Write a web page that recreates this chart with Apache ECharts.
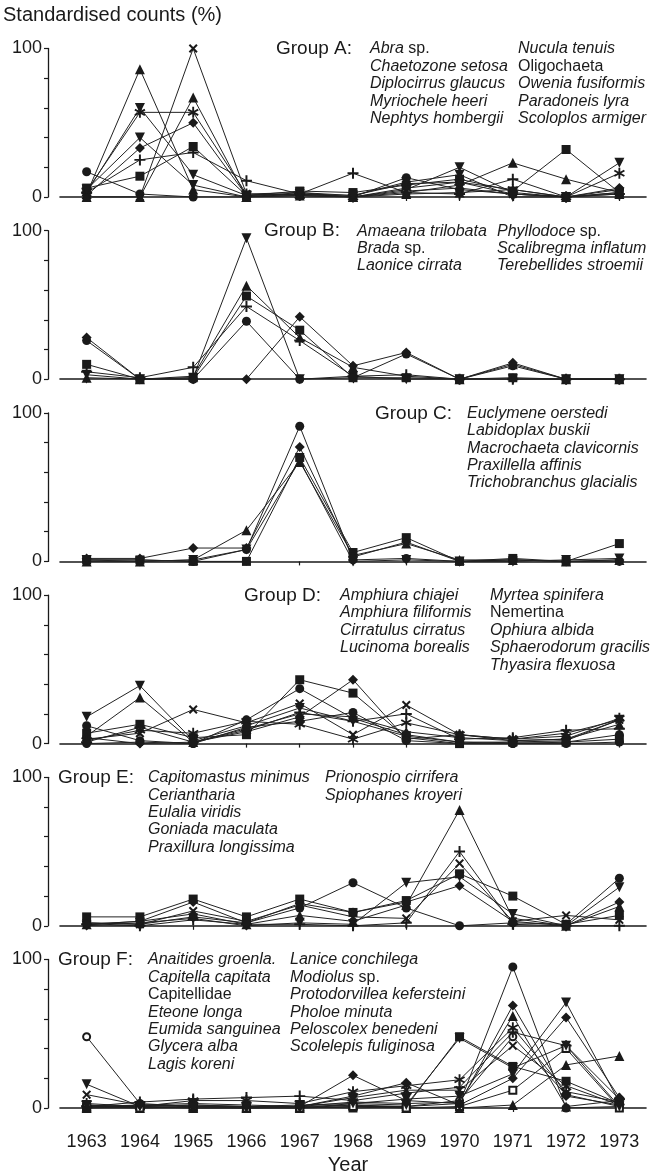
<!DOCTYPE html>
<html>
<head>
<meta charset="utf-8">
<script src="https://cdn.jsdelivr.net/npm/echarts@6/dist/echarts.min.js"></script>
<style>
  html, body { margin: 0; padding: 0; background: #fff; }
  #chart { width: 651px; height: 1176px; }
</style>
</head>
<body>
<div id="chart"></div>
<script>
// Years sampled
const years = ['1963', '1964', '1965', '1966', '1967', '1968', '1969', '1970', '1971', '1972', '1973'];

// Standardised counts (%) per species line, one array per line, grouped by community group
const groupA = [
  [17, 2, 0, 0, 1, 0, 13, 5, 2, 0, 5],
  [2, 86, 5, 0, 2, 0, 3, 8, 23, 12, 3],
  [3, 60, 15, 1, 2, 0, 5, 20, 3, 0, 23],
  [0, 0, 100, 2, 3, 0, 4, 6, 2, 0, 3],
  [3, 25, 30, 11, 2, 16, 3, 2, 12, 0, 2],
  [6, 14, 34, 1, 4, 3, 8, 12, 4, 32, 3],
  [1, 33, 50, 1, 2, 1, 9, 10, 2, 0, 6],
  [4, 57, 57, 2, 1, 0, 6, 10, 5, 0, 16],
  [0, 0, 67, 0, 1, 0, 2, 3, 5, 0, 2],
  [5, 40, 8, 0, 3, 1, 10, 15, 0, 0, 3]
];
const groupB = [
  [3, 0, 1, 95, 0, 2, 0, 0, 0, 0, 0],
  [1, 0, 2, 63, 28, 8, 2, 0, 10, 0, 0],
  [10, 0, 1, 56, 33, 1, 1, 0, 1, 0, 0],
  [5, 1, 8, 49, 26, 2, 3, 0, 0, 0, 0],
  [26, 0, 0, 39, 0, 1, 17, 0, 9, 0, 0],
  [28, 0, 0, 0, 42, 9, 18, 0, 11, 0, 0]
];
const groupC = [
  [1, 1, 0, 8, 91, 1, 2, 0, 1, 0, 0],
  [2, 2, 9, 9, 77, 3, 13, 0, 1, 0, 1],
  [1, 1, 0, 0, 70, 6, 16, 0, 2, 0, 12],
  [0, 0, 1, 21, 67, 4, 12, 1, 1, 0, 1],
  [1, 0, 1, 8, 68, 0, 1, 0, 0, 1, 2]
];
const groupD = [
  [18, 39, 2, 12, 24, 15, 5, 1, 1, 2, 16],
  [5, 31, 1, 10, 20, 18, 8, 4, 2, 3, 13],
  [3, 7, 23, 14, 27, 6, 26, 6, 3, 7, 16],
  [7, 13, 4, 6, 43, 34, 4, 0, 1, 1, 3],
  [12, 2, 0, 16, 37, 17, 6, 1, 0, 0, 1],
  [4, 0, 1, 8, 18, 43, 3, 6, 2, 3, 16],
  [1, 11, 1, 9, 21, 15, 20, 3, 4, 9, 10],
  [2, 9, 7, 15, 13, 3, 14, 6, 3, 5, 17],
  [0, 1, 0, 11, 15, 21, 2, 0, 0, 1, 6]
];
const groupE = [
  [2, 1, 6, 2, 12, 29, 12, 0, 2, 1, 32],
  [1, 3, 8, 1, 7, 3, 14, 78, 5, 0, 13],
  [0, 2, 5, 0, 2, 1, 29, 33, 8, 0, 26],
  [2, 1, 10, 3, 14, 6, 5, 42, 3, 7, 4],
  [1, 0, 4, 1, 1, 0, 2, 50, 1, 0, 0],
  [6, 6, 18, 6, 18, 9, 17, 35, 20, 1, 7],
  [1, 3, 16, 2, 15, 9, 16, 27, 3, 0, 16]
];
const groupF = [
  [48, 3, 1, 0, 1, 2, 1, 5, 48, 9, 1],
  [16, 1, 2, 1, 2, 3, 6, 8, 23, 71, 4],
  [9, 2, 3, 2, 1, 7, 12, 12, 42, 15, 2],
  [2, 0, 1, 1, 0, 1, 1, 3, 95, 0, 1],
  [1, 1, 2, 1, 1, 22, 5, 3, 69, 8, 2],
  [0, 0, 0, 0, 0, 2, 0, 0, 2, 29, 35],
  [1, 2, 1, 1, 1, 4, 3, 4, 62, 1, 5],
  [3, 1, 5, 5, 3, 11, 15, 19, 54, 11, 4],
  [0, 1, 0, 0, 1, 0, 1, 48, 28, 18, 3],
  [1, 4, 6, 7, 8, 5, 10, 14, 51, 42, 6],
  [1, 0, 1, 0, 0, 1, 0, 1, 12, 40, 0],
  [0, 2, 1, 1, 1, 8, 17, 2, 20, 61, 7],
  [2, 1, 0, 0, 0, 3, 2, 47, 27, 42, 1]
];

// Group labels and species lists (two columns each)
const groupNames = ['Group A:', 'Group B:', 'Group C:', 'Group D:', 'Group E:', 'Group F:'];
const speciesA = [
  ['Abra sp.', 'Chaetozone setosa', 'Diplocirrus glaucus', 'Myriochele heeri', 'Nephtys hombergii'],
  ['Nucula tenuis', 'Oligochaeta', 'Owenia fusiformis', 'Paradoneis lyra', 'Scoloplos armiger']
];
const speciesB = [
  ['Amaeana trilobata', 'Brada sp.', 'Laonice cirrata'],
  ['Phyllodoce sp.', 'Scalibregma inflatum', 'Terebellides stroemii']
];
const speciesC = [
  ['Euclymene oerstedi', 'Labidoplax buskii', 'Macrochaeta clavicornis', 'Praxillella affinis', 'Trichobranchus glacialis']
];
const speciesD = [
  ['Amphiura chiajei', 'Amphiura filiformis', 'Cirratulus cirratus', 'Lucinoma borealis'],
  ['Myrtea spinifera', 'Nemertina', 'Ophiura albida', 'Sphaerodorum gracilis', 'Thyasira flexuosa']
];
const speciesE = [
  ['Capitomastus minimus', 'Ceriantharia', 'Eulalia viridis', 'Goniada maculata', 'Praxillura longissima'],
  ['Prionospio cirrifera', 'Spiophanes kroyeri']
];
const speciesF = [
  ['Anaitides groenla.', 'Capitella capitata', 'Capitellidae', 'Eteone longa', 'Eumida sanguinea', 'Glycera alba', 'Lagis koreni'],
  ['Lanice conchilega', 'Modiolus sp.', 'Protodorvillea kefersteini', 'Pholoe minuta', 'Peloscolex benedeni', 'Scolelepis fuliginosa']
];
// Higher taxa are set upright rather than italic
const uprightNames = ['Oligochaeta', 'Capitellidae', 'Nemertina'];

const FONT = '"Liberation Sans", Arial, Helvetica, sans-serif';
const INK = '#1a1a1a';

// Marker shapes
const SYM = {
  circle: 'circle',
  ocircle: 'emptyCircle',
  tri: 'triangle',
  itri: 'path://M0,0 L10,0 L5,9 Z',
  rect: 'rect',
  orect: 'emptyRect',
  dia: 'diamond',
  cross: 'path://M0,1.6 L1.6,0 L5,3.4 L8.4,0 L10,1.6 L6.6,5 L10,8.4 L8.4,10 L5,6.6 L1.6,10 L0,8.4 L3.4,5 Z',
  plus: 'path://M4.1,0 H5.9 V4.1 H10 V5.9 H5.9 V10 H4.1 V5.9 H0 V4.1 H4.1 Z',
  star: 'path://M4.2,0 H5.8 V3.6 L8.9,1.8 L9.7,3.2 L6.6,5 L9.7,6.8 L8.9,8.2 L5.8,6.4 V10 H4.2 V6.4 L1.1,8.2 L0.3,6.8 L3.4,5 L0.3,3.2 L1.1,1.8 L4.2,3.6 Z'
};
const SIZE = { circle: 9, ocircle: 7, tri: 10, itri: 10, rect: 9, orect: 7, dia: 10, cross: 9, plus: 11, star: 11 };

const markersA = ['circle', 'tri', 'itri', 'cross', 'plus', 'rect', 'dia', 'star', 'tri', 'itri'];
const markersB = ['itri', 'tri', 'rect', 'plus', 'circle', 'dia'];
const markersC = ['circle', 'dia', 'rect', 'tri', 'itri'];
const markersD = ['itri', 'tri', 'cross', 'rect', 'circle', 'dia', 'plus', 'star', 'circle'];
const markersE = ['circle', 'tri', 'itri', 'cross', 'plus', 'rect', 'dia'];
const markersF = ['ocircle', 'itri', 'cross', 'circle', 'dia', 'tri', 'tri', 'star', 'rect', 'plus', 'orect', 'dia', 'itri'];

const groups = [groupA, groupB, groupC, groupD, groupE, groupF];
const markers = [markersA, markersB, markersC, markersD, markersE, markersF];
const species = [speciesA, speciesB, speciesC, speciesD, speciesE, speciesF];

// Panel geometry: top of each plot (the 100 level) and its height
const PANEL_TOP = 48.5, PANEL_STEP = 182.2, PANEL_H = 148.5;
// Label block anchors per panel: [group label x, first column x, second column x]
const labelX = [
  [276, 370, 518],
  [264, 357, 497],
  [375, 467, null],
  [244, 340, 490],
  [58, 148, 325],
  [58, 148, 290]
];
const LINE_H = 17.4;

function richName(name) {
  if (uprightNames.indexOf(name) >= 0) return '{n|' + name + '}';
  if (name.endsWith(' sp.')) return '{i|' + name.slice(0, -4) + ' }{n|sp.}';
  return '{i|' + name + '}';
}
const richStyles = {
  i: { fontStyle: 'italic', fontSize: 16, fontFamily: FONT, fill: INK },
  n: { fontSize: 16, fontFamily: FONT, fill: INK }
};

const grids = [], xAxes = [], yAxes = [], series = [], graphics = [];

groups.forEach((lines, g) => {
  const top = PANEL_TOP + g * PANEL_STEP;
  grids.push({ left: 60, right: 5, top: top, height: PANEL_H, containLabel: false });
  xAxes.push({
    gridIndex: g, type: 'category', data: years, boundaryGap: true, offset: 3,
    axisLine: { lineStyle: { color: INK, width: 1.6 } },
    axisTick: { show: true, alignWithLabel: true, length: 4, lineStyle: { color: INK, width: 1.2 } },
    axisLabel: { show: g === groups.length - 1, fontSize: 18, color: INK, fontFamily: FONT, margin: 22 },
    splitLine: { show: false }
  });
  yAxes.push({
    gridIndex: g, type: 'value', min: 0, max: 100, interval: 20, offset: 12,
    axisLine: { show: true, lineStyle: { color: INK, width: 1.3 } },
    axisTick: { show: true, length: 4, lineStyle: { color: INK, width: 1.2 } },
    splitLine: { show: false },
    axisLabel: {
      fontSize: 18, color: INK, fontFamily: FONT, margin: 6,
      formatter: v => (v === 0 || v === 100) ? String(v) : ''
    }
  });
  lines.forEach((vals, k) => {
    const m = markers[g][k];
    const open = (m === 'ocircle' || m === 'orect');
    series.push({
      type: 'line', xAxisIndex: g, yAxisIndex: g, data: vals,
      symbol: SYM[m], symbolSize: SIZE[m], showAllSymbol: true,
      lineStyle: { color: '#222', width: 1 },
      itemStyle: open ? { color: INK, borderColor: INK, borderWidth: 1.8 } : { color: INK, borderWidth: 0 },
      emphasis: { disabled: true },
      silent: true
    });
  });

  // group label and species lists
  const y0 = top + 0.5;
  graphics.push({
    type: 'text', x: labelX[g][0], y: y0,
    style: { text: groupNames[g], fontSize: 19, fontFamily: FONT, fill: INK, verticalAlign: 'middle' }
  });
  species[g].forEach((col, c) => {
    col.forEach((name, r) => {
      graphics.push({
        type: 'text', x: labelX[g][1 + c], y: y0 + r * LINE_H,
        style: { text: richName(name), rich: richStyles, fontSize: 16, fontFamily: FONT, fill: INK, verticalAlign: 'middle' }
      });
    });
  });
});

// Axis titles
graphics.push({
  type: 'text', x: 3, y: 15,
  style: { text: 'Standardised counts (%)', fontSize: 20, fontFamily: FONT, fill: INK, verticalAlign: 'middle' }
});
graphics.push({
  type: 'text', x: 348, y: 1165,
  style: { text: 'Year', fontSize: 20, fontFamily: FONT, fill: INK, align: 'center', verticalAlign: 'middle' }
});

const chart = echarts.init(document.getElementById('chart'), null, { renderer: 'canvas' });
chart.setOption({
  animation: false,
  backgroundColor: '#fff',
  grid: grids,
  xAxis: xAxes,
  yAxis: yAxes,
  series: series,
  graphic: graphics
});
</script>
</body>
</html>
